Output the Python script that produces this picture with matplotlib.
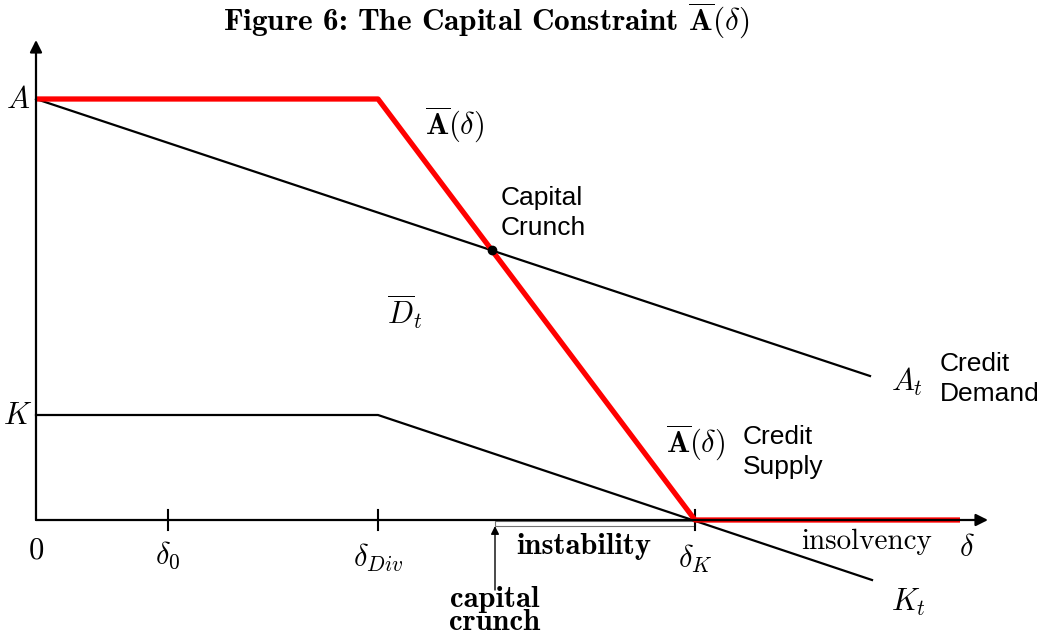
import matplotlib.pyplot as plt
from matplotlib.patches import Rectangle

plt.rcParams['mathtext.fontset'] = 'cm'

# diagram coordinates: origin where the axes meet
delta_ticks = [0, 132, 342, 659]
delta_labels = [r'$0$', r'$\delta_0$', r'$\delta_{Div}$', r'$\delta_K$']
delta_label_y = [-30, -35, -38, -39]
A_level = 421
K_level = 105

red_x = [0, 342, 659, 924]
red_y = [A_level, A_level, 0, 0]

At_x = [0, 834]
At_y = [A_level, 144]

Kt_x = [0, 342, 836]
Kt_y = [K_level, K_level, -60]

instab = [459, 659]


def intersect(p1, p2, q1, q2):
    (x1, y1), (x2, y2) = p1, p2
    (x3, y3), (x4, y4) = q1, q2
    d = (x1 - x2) * (y3 - y4) - (y1 - y2) * (x3 - x4)
    t = ((x1 - x3) * (y3 - y4) - (y1 - y3) * (x3 - x4)) / d
    return x1 + t * (x2 - x1), y1 + t * (y2 - y1)


fig = plt.figure(figsize=(10.44, 6.4), dpi=100)
ax = fig.add_axes([0, 0, 1, 1])
ax.set_xlim(-36, 1008)
ax.set_ylim(-120, 520)
ax.axis('off')

# axes with arrows
arrow = dict(arrowstyle='-|>', lw=1.6, color='black', mutation_scale=18, shrinkA=0, shrinkB=0)
ax.annotate('', xy=(952, 0), xytext=(0, 0), arrowprops=arrow)
ax.annotate('', xy=(0, 480), xytext=(0, 0), arrowprops=arrow)

for x in delta_ticks[1:]:
    ax.plot([x, x], [-10, 10], color='black', lw=1.5)

# instability bracket
ax.add_patch(Rectangle((instab[0], -6), instab[1] - instab[0], 5, fill=False,
                       edgecolor='0.45', lw=0.8))
ax.annotate('', xy=(instab[0], -6), xytext=(instab[0], -70),
            arrowprops=dict(arrowstyle='-|>', lw=1.0, color='black',
                            mutation_scale=12, shrinkA=0, shrinkB=0))

ax.plot(At_x, At_y, color='black', lw=1.6)
ax.plot(Kt_x, Kt_y, color='black', lw=1.6)
ax.plot(red_x, red_y, color='#ff0000', lw=3.8, solid_capstyle='butt')

cx, cy = intersect((At_x[0], At_y[0]), (At_x[1], At_y[1]),
                   (red_x[1], red_y[1]), (red_x[2], red_y[2]))
ax.plot(cx, cy, 'o', color='black', ms=6)

# labels
ms = 22
ax.text(-18, A_level, r'$A$', fontsize=ms, ha='center', va='center')
ax.text(-18, K_level, r'$K$', fontsize=ms, ha='center', va='center')
for x, y, lab in zip(delta_ticks, delta_label_y, delta_labels):
    ax.text(x, y, lab, fontsize=ms, ha='center', va='center')
ax.text(548, -27, 'instability', family='cmb10', fontsize=22, ha='center', va='center')
ax.text(831, -22, 'insolvency', family='cmr10', fontsize=21, ha='center', va='center')
ax.text(931, -28, r'$\delta$', fontsize=ms, ha='center', va='center')
ax.text(459, -91, 'capital\ncrunch', family='cmb10', fontsize=22,
        ha='center', va='center', linespacing=0.8)
ax.text(872, -82, r'$K_t$', fontsize=ms, ha='center', va='center')
ax.text(871, 138, r'$A_t$', fontsize=ms, ha='center', va='center')
ax.text(369, 208, r'$\overline{D}_t$', fontsize=ms, ha='center', va='center')
ax.text(419, 395, r'$\overline{\mathbf{A}}(\delta)$', fontsize=ms, ha='center', va='center')
ax.text(660, 77, r'$\overline{\mathbf{A}}(\delta)$', fontsize=ms, ha='center', va='center')

sans = dict(family='Liberation Sans', fontsize=19, ha='left', va='center', linespacing=1.3)
ax.text(465, 307, 'Capital\nCrunch', **sans)
ax.text(904, 141, 'Credit\nDemand', **sans)
ax.text(707, 68, 'Credit\nSupply', **sans)

ax.text(450, 489, r'Figure 6: The Capital Constraint $\overline{\mathbf{A}}(\delta)$',
        family='cmb10', fontsize=22.5, ha='center', va='baseline')

fig.savefig('out.png', dpi=100)
